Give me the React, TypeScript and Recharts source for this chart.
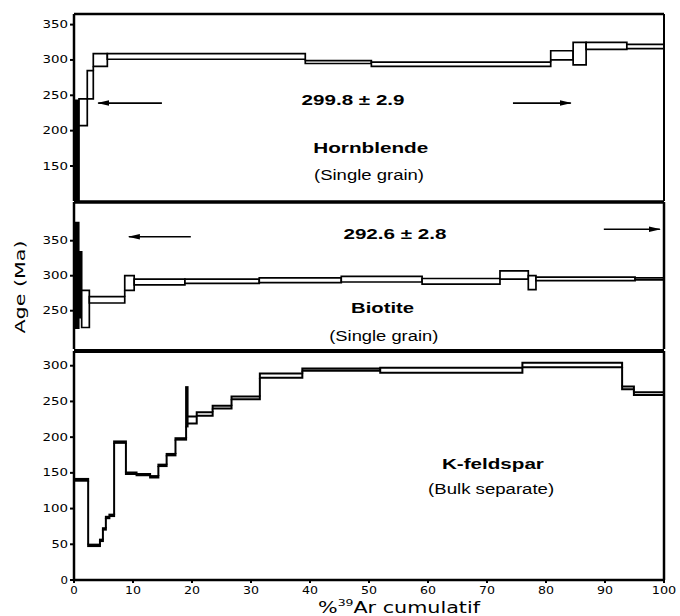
import React from "react";
import { ComposedChart, XAxis, YAxis, ReferenceArea, ReferenceLine, ReferenceDot } from "recharts";

// age spectra: bounds = cumulative %39Ar, low/high = age error box (Ma)
const hbBounds = [0, 0.85, 2.25, 3.27, 5.65, 39.2, 50.4, 80.8, 84.6, 86.8, 93.7, 100];
const hbLow = [60, 207, 245, 291, 301, 295, 291, 300, 293, 315, 316];
const hbHigh = [243, 245, 285, 309, 309, 299, 297, 313, 325, 325, 322];

const btBounds = [0, 0.8, 1.3, 2.6, 8.6, 10.2, 18.8, 31.4, 45.3, 59.0, 72.2, 77.0, 78.3, 95.1, 100];
const btLow = [225, 240, 226, 261, 279, 287, 289, 290, 291, 288, 295, 280, 293, 294];
const btHigh = [376, 334, 279, 270, 300, 295, 295, 297, 299, 296, 307, 300, 298, 297];

const kfBounds = [0, 2.4, 4.4, 4.9, 5.4, 6.0, 6.8, 8.8, 10.6, 12.9, 14.3, 15.7, 17.2, 19.0, 19.25, 20.8, 23.5, 26.7, 31.5, 38.7, 51.9, 76.0, 92.9, 94.9, 100];
const kfLow = [139, 47.5, 54.5, 70.5, 86.5, 89.5, 192, 148.5, 146.5, 143.5, 159.5, 174.5, 196.5, 215, 219, 230, 240, 253, 283, 293, 290, 298, 267, 259];
const kfHigh = [141.5, 49.5, 56.5, 72.5, 88.5, 91.5, 194, 150.5, 148.5, 145.5, 161.5, 176.5, 198.5, 270, 229, 235, 244, 257, 289, 296, 297, 304, 271, 263];

const hbTicks = [150, 200, 250, 300, 350];
const btTicks = [250, 300, 350];
const kfTicks = [0, 50, 100, 150, 200, 250, 300];
const xTicks = [0, 10, 20, 30, 40, 50, 60, 70, 80, 90, 100];

const hbPlateau = "299.8 ± 2.9";
const btPlateau = "292.6 ± 2.8";

const TICK_FONT = "DejaVu Sans, Verdana, sans-serif";
const TEXT_FONT = "Liberation Sans, Arial, Helvetica, sans-serif";

// boxes plus the vertical risers joining neighbouring steps
const steps = (bounds: number[], low: number[], high: number[], sw: number) => {
  const out: React.ReactNode[] = [];
  low.forEach((lo, i) => {
    if (i > 0) {
      const pLo = low[i - 1];
      const pHi = high[i - 1];
      let a: number | null = null;
      let b: number | null = null;
      if (lo > pHi) { a = pHi; b = lo; }
      else if (high[i] < pLo) { a = pLo; b = high[i]; }
      if (a !== null && b !== null) {
        out.push(
          <ReferenceLine key={"r" + i} segment={[{ x: bounds[i], y: a }, { x: bounds[i], y: b }]}
            stroke="#000" strokeWidth={sw} ifOverflow="hidden" />
        );
      }
    }
  });
  low.forEach((lo, i) => {
    const narrow = bounds[i + 1] - bounds[i] < 1;
    out.push(
      <ReferenceArea
        key={"s" + i}
        x1={bounds[i]}
        x2={bounds[i + 1]}
        y1={lo}
        y2={high[i]}
        fill={narrow ? "#000" : "#fff"}
        fillOpacity={1}
        stroke="#000"
        strokeWidth={sw}
        ifOverflow="hidden"
      />
    );
  });
  return out;
};

const YTick = (p: any) => {
  const s = String(p.payload.value);
  return (
    <text x={p.x} y={p.y} dy={3.5} textAnchor="end" fontFamily={TICK_FONT} fontSize={10} fill="#000"
      textLength={s.length * 9 - 1.5} lengthAdjust="spacingAndGlyphs">
      {s}
    </text>
  );
};

const XTick = (p: any) => {
  const s = String(p.payload.value);
  return (
    <text x={p.x} y={p.y} dy={9} textAnchor="middle" fontFamily={TICK_FONT} fontSize={10} fill="#000"
      textLength={s.length * 8.5 - 1} lengthAdjust="spacingAndGlyphs">
      {s}
    </text>
  );
};

const note = (s: string, size: number, bold: boolean, len: number) => (p: any) => {
  const vb = p.viewBox || {};
  const cx = vb.x + (vb.width || 0) / 2;
  const cy = vb.y + (vb.height || 0) / 2;
  return (
    <text x={cx} y={cy} textAnchor="middle" fontFamily={TEXT_FONT} fontSize={size}
      fontWeight={bold ? 700 : 400} fill="#000" textLength={len} lengthAdjust="spacingAndGlyphs">
      {s}
    </text>
  );
};

const arrow = (x1: number, x2: number, y: number, key: string) => (
  <ReferenceLine
    key={key}
    segment={[{ x: x1, y }, { x: x2, y }]}
    stroke="#000"
    strokeWidth={1.6}
    markerEnd="url(#arrowHead)"
    ifOverflow="visible"
  />
);

const label = (x: number, y: number, s: string, size: number, bold: boolean, len: number) => (
  <ReferenceDot x={x} y={y} r={1} fill="none" stroke="none" ifOverflow="visible" label={note(s, size, bold, len)} />
);

const yAxisProps = {
  width: 74,
  axisLine: { stroke: "#000", strokeWidth: 2.5 },
  tickLine: { stroke: "#000", strokeWidth: 2 },
  tickSize: 4,
  tickMargin: 2,
  tick: YTick,
  interval: 0 as const,
  allowDataOverflow: true,
  type: "number" as const,
};

const App: React.FC = () => {
  return (
    <div style={{ position: "absolute", left: 0, top: 0, width: 680, height: 616, background: "#fff" }}>
      <svg width={0} height={0} style={{ position: "absolute" }}>
        <defs>
          <marker id="arrowHead" markerWidth={12} markerHeight={8} refX={11} refY={4} orient="auto" markerUnits="userSpaceOnUse">
            <path d="M0,1.2 L12,4 L0,6.8 Z" fill="#000" />
          </marker>
        </defs>
      </svg>

      {/* Hornblende */}
      <div style={{ position: "absolute", left: 0, top: 0 }}>
        <ComposedChart width={680} height={202} margin={{ top: 14, right: 16, bottom: 1, left: 0 }}>
          <XAxis type="number" dataKey="x" domain={[0, 100]} hide allowDataOverflow />
          <YAxis {...yAxisProps} domain={[100.5, 365]} ticks={hbTicks} />
          <ReferenceLine y={365} stroke="#000" strokeWidth={2.5} ifOverflow="visible" />
          <ReferenceLine x={100} stroke="#000" strokeWidth={2} ifOverflow="visible" />
          {steps(hbBounds, hbLow, hbHigh, 1.7)}
          {arrow(14.9, 4.1, 239, "a1")}
          {arrow(74.4, 84.2, 239, "a2")}
          {label(47.3, 236.3, hbPlateau, 15, true, 103)}
          {label(50.3, 168.8, "Hornblende", 15, true, 115)}
          {label(50.0, 130.2, "(Single grain)", 14, false, 110)}
        </ComposedChart>
      </div>

      {/* Biotite */}
      <div style={{ position: "absolute", left: 0, top: 190 }}>
        <ComposedChart width={680} height={162} margin={{ top: 12, right: 16, bottom: 3, left: 0 }}>
          <XAxis type="number" dataKey="x" domain={[0, 100]} hide allowDataOverflow />
          <YAxis {...yAxisProps} domain={[195.3, 405.3]} ticks={btTicks} />
          <ReferenceLine y={405.3} stroke="#000" strokeWidth={3.5} ifOverflow="visible" />
          <ReferenceLine x={100} stroke="#000" strokeWidth={2.5} ifOverflow="visible" />
          {steps(btBounds, btLow, btHigh, 1.7)}
          {arrow(19.8, 9.3, 355.7, "b1")}
          {arrow(89.8, 99.3, 366.3, "b2")}
          {label(54.4, 352, btPlateau, 15, true, 103)}
          {label(52.3, 247.1, "Biotite", 15, true, 63)}
          {label(52.5, 207.1, "(Single grain)", 14, false, 109)}
        </ComposedChart>
      </div>

      {/* K-feldspar */}
      <div style={{ position: "absolute", left: 0, top: 338 }}>
        <ComposedChart width={680} height={278} margin={{ top: 13, right: 16, bottom: 0, left: 0 }}>
          <XAxis
            type="number"
            dataKey="x"
            domain={[0, 100]}
            ticks={xTicks}
            interval={0}
            height={36}
            axisLine={{ stroke: "#000", strokeWidth: 2.5 }}
            tickLine={{ stroke: "#000", strokeWidth: 2 }}
            tickSize={3}
            tickMargin={2}
            tick={XTick}
            allowDataOverflow
          />
          <YAxis {...yAxisProps} domain={[0, 320.6]} ticks={kfTicks} />
          <ReferenceLine y={320.6} stroke="#000" strokeWidth={4} ifOverflow="visible" />
          <ReferenceLine x={100} stroke="#000" strokeWidth={2.5} ifOverflow="visible" />
          {steps(kfBounds, kfLow, kfHigh, 2)}
          {label(71.0, 155, "K-feldspar", 15, true, 102)}
          {label(70.7, 120, "(Bulk separate)", 14, false, 126)}
        </ComposedChart>
      </div>

      {/* axis titles */}
      <svg width={680} height={616} style={{ position: "absolute", left: 0, top: 0, pointerEvents: "none" }}>
        <text transform="translate(25,287) rotate(-90)" textAnchor="middle" fontFamily={TICK_FONT} fontSize={14}
          fill="#000" textLength={93} lengthAdjust="spacingAndGlyphs">
          Age (Ma)
        </text>
        <text x={399} y={613} textAnchor="middle" fontFamily={TICK_FONT} fontSize={15} fill="#000"
          textLength={162} lengthAdjust="spacingAndGlyphs">
          %<tspan fontSize={9} dy={-7}>39</tspan>
          <tspan dy={7}>Ar cumulatif</tspan>
        </text>
      </svg>
    </div>
  );
};

export default App;
